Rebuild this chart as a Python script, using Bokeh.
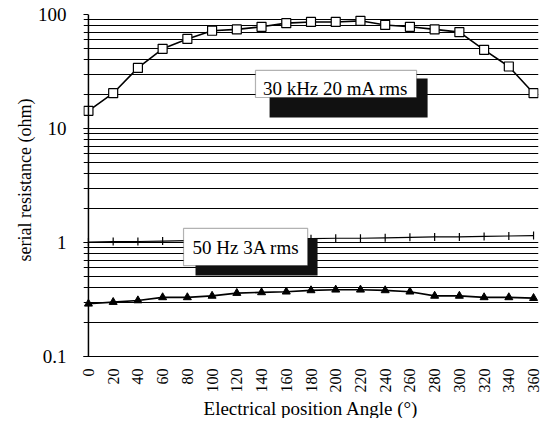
import math
from bokeh.plotting import figure
from bokeh.models import Range1d, FixedTicker, Span, BoxAnnotation, Label, Title
from bokeh.embed import file_html
from bokeh.resources import INLINE

# ---- data ----
angles = [0, 20, 40, 60, 80, 100, 120, 140, 160, 180, 200, 220, 240, 260, 280, 300, 320, 340, 360]
res_30khz = [14.3, 20.4, 34, 50, 61, 72, 74, 78, 84, 86, 86, 88, 81, 78, 74, 70, 49, 35, 20.4]
res_50hz = [0.29, 0.30, 0.31, 0.33, 0.33, 0.34, 0.36, 0.365, 0.37, 0.38, 0.385, 0.385, 0.38, 0.37, 0.34, 0.34, 0.33, 0.33, 0.325]
res_ref = [1.01, 1.02, 1.02, 1.03, 1.04, 1.05, 1.05, 1.06, 1.07, 1.08, 1.09, 1.09, 1.10, 1.11, 1.12, 1.12, 1.13, 1.14, 1.15]
x_tick_labels = [str(a) for a in angles]
y_ticks = [0.1, 1, 10, 100]
y_tick_labels = ["0.1", "1", "10", "100"]
y_minor = [m * d for d in (0.1, 1, 10) for m in range(2, 10)]
label_30khz = "30 kHz 20 mA rms"
label_50hz = "50 Hz 3A rms"
x_title = "Electrical position Angle (°)"
y_title = "serial resistance (ohm)"

FONT = "Liberation Serif"

p = figure(width=542, height=418, y_axis_type="log",
           x_range=Range1d(-4, 364), y_range=Range1d(0.1, 100),
           output_backend="svg", toolbar_location=None,
           min_border_left=83, min_border_right=4, min_border_top=14, min_border_bottom=62)
p.outline_line_color = None
p.background_fill_color = "white"
p.border_fill_color = "white"

# grid
p.xgrid.grid_line_color = None
p.ygrid.grid_line_color = "black"
p.ygrid.grid_line_width = 1
p.ygrid.minor_grid_line_color = "black"
p.ygrid.minor_grid_line_width = 1

# y axis
p.yaxis.ticker = FixedTicker(ticks=y_ticks, minor_ticks=y_minor)
p.yaxis.major_label_overrides = {t: l for t, l in zip(y_ticks, y_tick_labels)}
p.yaxis.axis_line_color = None
p.yaxis.major_tick_in = 5
p.yaxis.major_tick_out = 0
p.yaxis.major_tick_line_color = "black"
p.yaxis.minor_tick_line_color = None
p.yaxis.major_label_standoff = 13
p.yaxis.major_label_text_font = FONT
p.yaxis.major_label_text_font_size = "19px"
p.yaxis.major_label_text_color = "black"

# x axis
p.xaxis.ticker = FixedTicker(ticks=angles)
p.xaxis.major_label_overrides = {a: l for a, l in zip(angles, x_tick_labels)}
p.xaxis.major_label_orientation = math.pi / 2
p.xaxis.major_tick_line_color = None
p.xaxis.minor_tick_line_color = None
p.xaxis.axis_line_color = "black"
p.xaxis.axis_line_width = 1.2
p.xaxis.major_label_standoff = 6
p.xaxis.major_label_text_font = FONT
p.xaxis.major_label_text_font_size = "16px"
p.xaxis.major_label_text_color = "black"

# axis titles as side titles
p.add_layout(Title(text=x_title, align="center", standoff=0, text_font=FONT,
                   text_font_size="19px", text_font_style="normal", text_color="black"), "below")
p.add_layout(Title(text=y_title, align="left", offset=95, standoff=0, text_font=FONT,
                   text_font_size="18px", text_font_style="normal", text_color="black"), "left")

# left axis line at angle 0
p.add_layout(Span(location=0, dimension="height", line_color="black", line_width=1.5))

# series
p.line(angles, res_30khz, line_color="black", line_width=1.6)
p.scatter(angles, res_30khz, marker="square", size=9, fill_color="white",
          line_color="black", line_width=1.2)

p.line(angles, res_ref, line_color="black", line_width=1.2)
p.scatter(angles, res_ref, marker="dash", angle=math.pi / 2, size=8,
          line_color="black", line_width=1.2)

p.line(angles, res_50hz, line_color="black", line_width=1.6)
p.scatter(angles, res_50hz, marker="triangle", size=8, fill_color="black",
          line_color="black")

# annotation boxes with drop shadows
p.add_layout(BoxAnnotation(left=146.5, right=274.3, top=27.5, bottom=12.5,
                           fill_color="#111111", fill_alpha=1, line_color=None))
p.add_layout(BoxAnnotation(left=135.1, right=265.4, top=32.3, bottom=18.7,
                           fill_color="white", fill_alpha=1, line_color="black", line_width=1.2))
p.add_layout(Label(x=200, y=22.4, text=label_30khz, text_align="center", text_baseline="middle",
                   text_font=FONT, text_font_size="19px", text_color="black"))

p.add_layout(BoxAnnotation(left=86.6, right=185.3, top=1.084, bottom=0.513,
                           fill_color="#111111", fill_alpha=1, line_color=None))
p.add_layout(BoxAnnotation(left=76.9, right=177.3, top=1.33, bottom=0.628,
                           fill_color="white", fill_alpha=1, line_color="black", line_width=1.2))
p.add_layout(Label(x=127.5, y=0.904, text=label_50hz, text_align="center", text_baseline="middle",
                   text_font=FONT, text_font_size="19px", text_color="black"))

open("out.html", "w").write(file_html(p, INLINE))
